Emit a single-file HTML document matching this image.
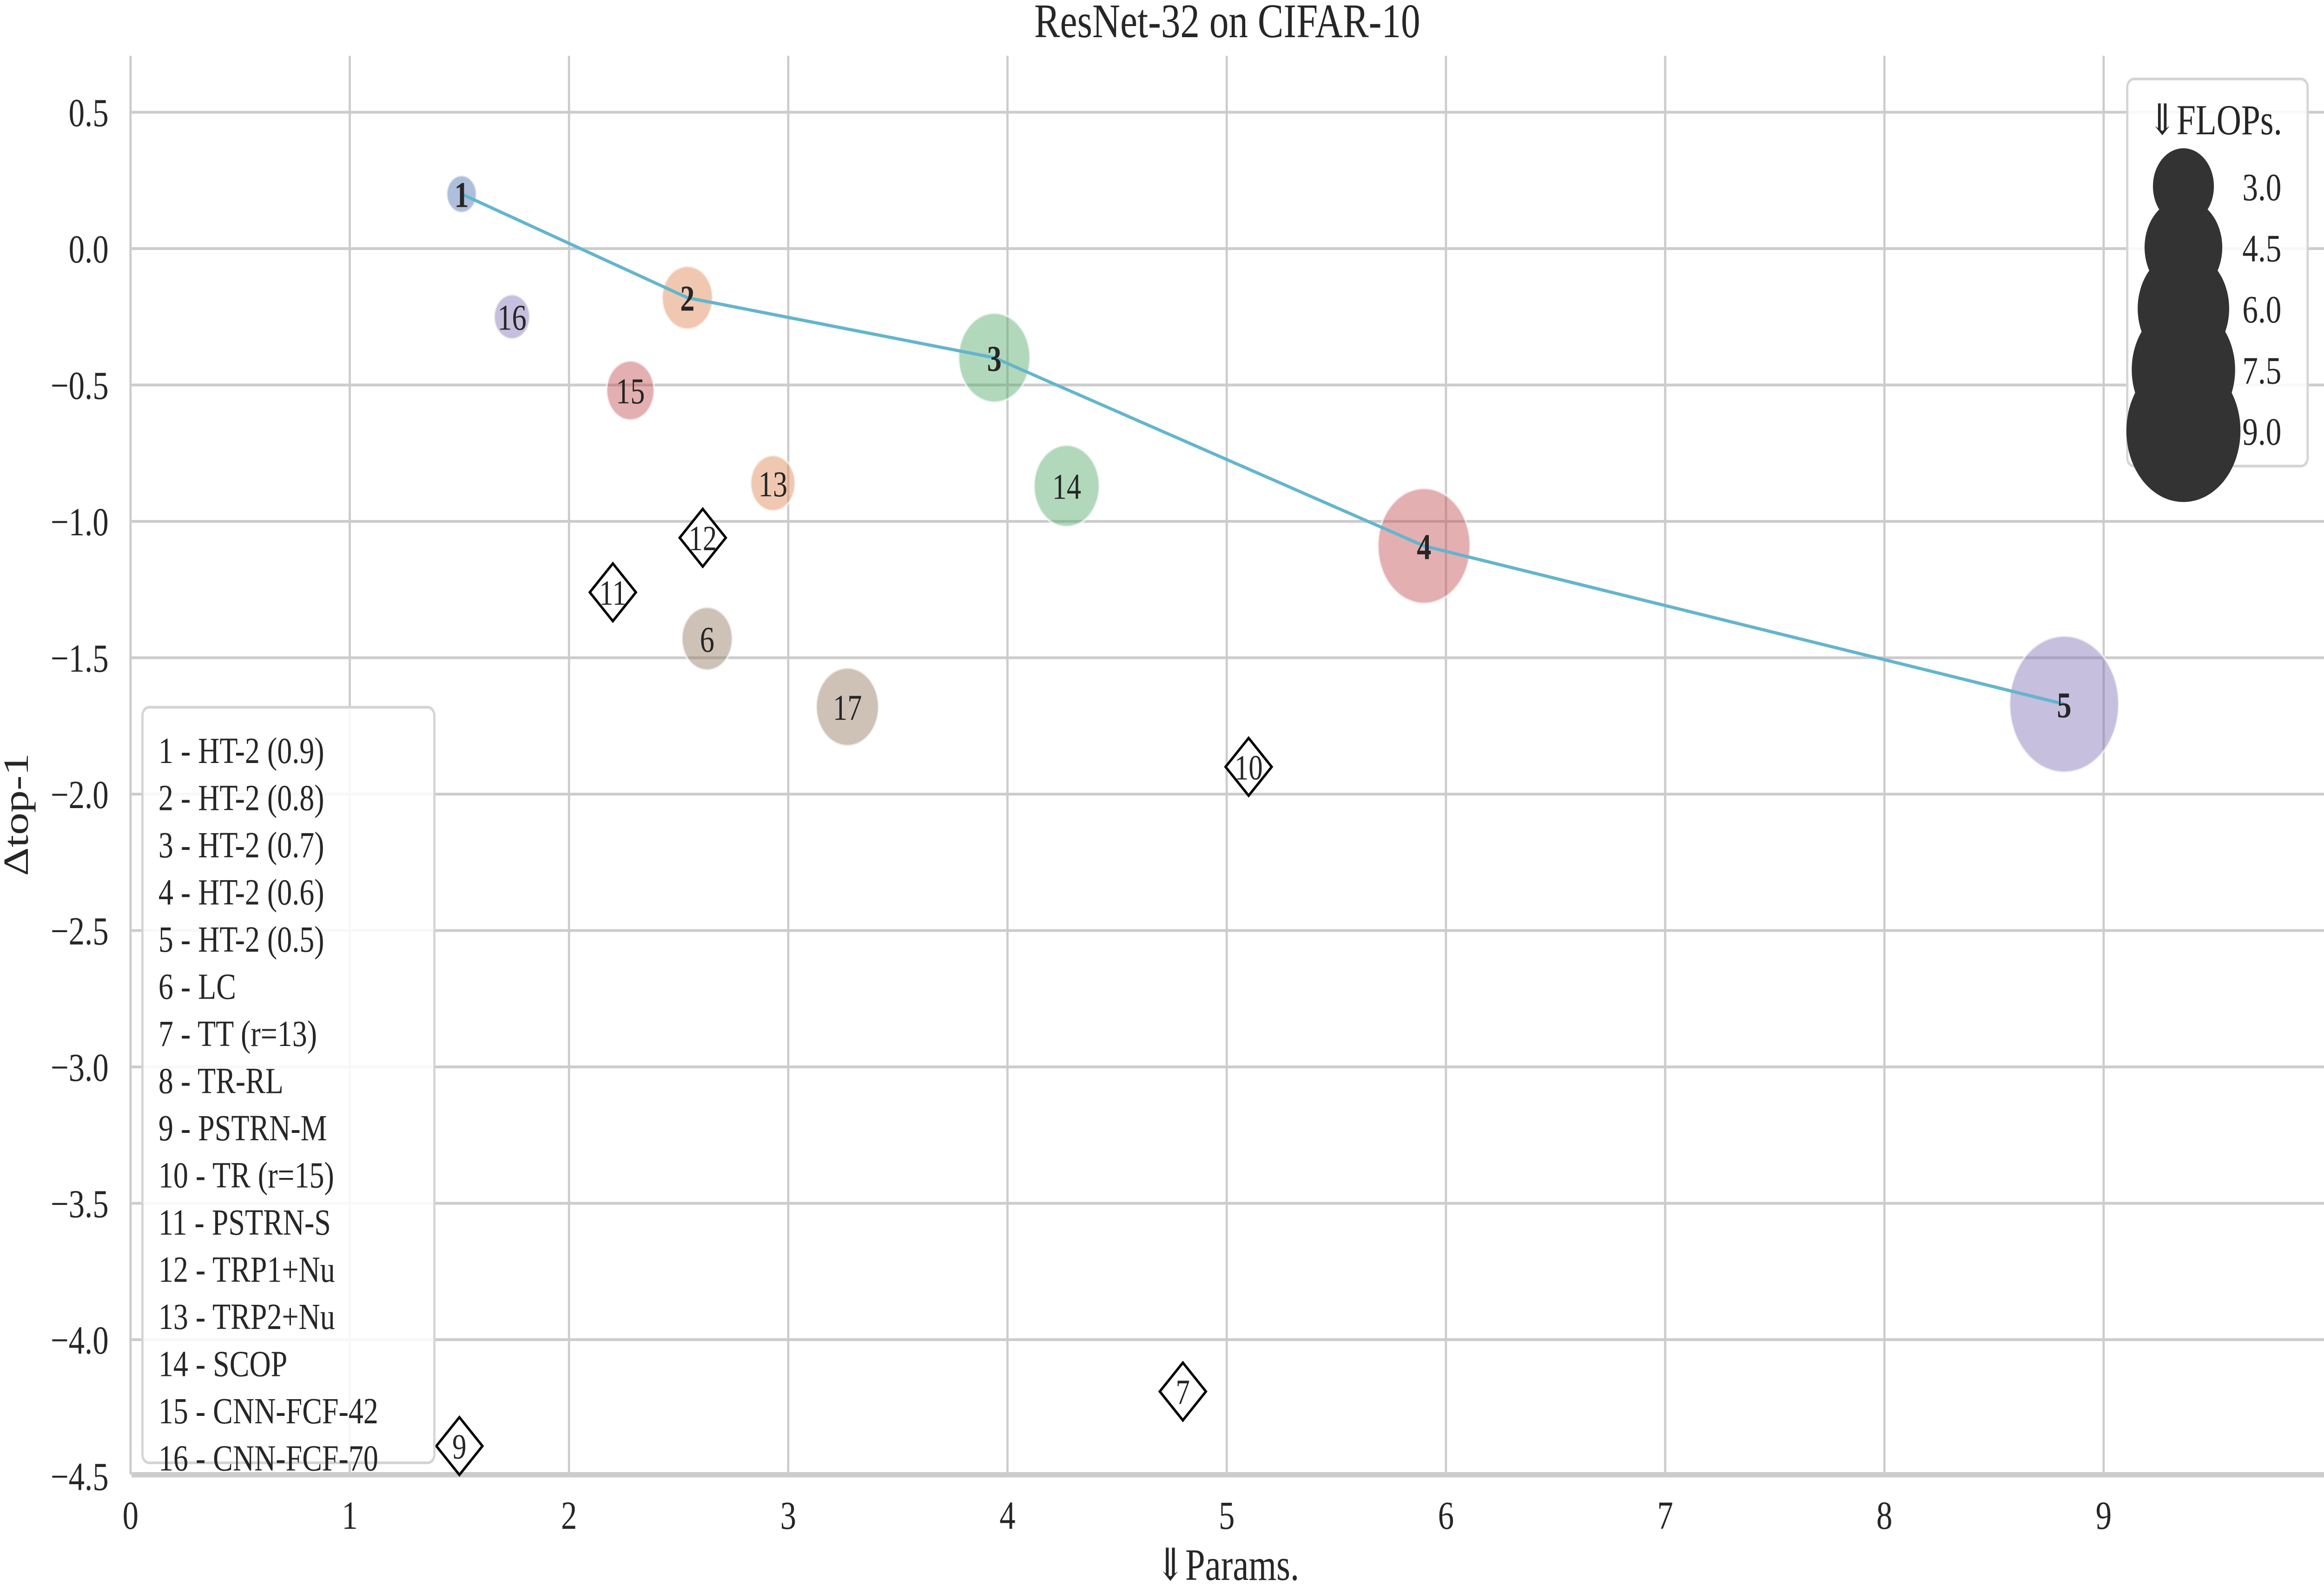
<!DOCTYPE html>
<html><head><meta charset="utf-8"><style>
html,body{margin:0;padding:0;background:#fff;overflow:hidden;width:100vw;height:100vh}
svg{display:block;width:100vw;height:100vh;font-family:"Liberation Serif","DejaVu Serif",serif}
</style></head><body>
<svg id="chart" viewBox="0 0 6249 3426" preserveAspectRatio="none" xmlns="http://www.w3.org/2000/svg">
<text x="3300" y="80" font-size="104" text-anchor="middle" fill="#262626">ResNet-32 on CIFAR-10</text>
<g id="grid"></g>
<g id="marks"></g>
<g id="ticks"></g>
<text x="3300" y="3400" font-size="96" text-anchor="middle" fill="#262626">⇓Params.</text>
<text transform="translate(75,1753) rotate(-90)" font-size="96" text-anchor="middle" fill="#262626">Δtop-1</text>
<g id="legend"></g>
<g id="sizelegend"></g>
</svg>
<script>
const ids = [1,2,3,4,5,16,15,13,14,6,17];
const params = [1.51,2.54,3.94,5.90,8.82,1.74,2.28,2.93,4.27,2.63,3.27];
const dtop = [0.20,-0.18,-0.40,-1.09,-1.67,-0.25,-0.52,-0.86,-0.87,-1.43,-1.68];
const flops = [1.17,2.25,3.9,6.1,8.3,1.42,2.06,1.88,3.36,2.25,3.12];
const colors = ["#4c72b0","#dd8452","#55a868","#c44e52","#8172b3","#8172b3","#c44e52","#dd8452","#55a868","#937860","#937860"];
const diamondIds = [12,11,10,7,9];
const diamondParams = [2.61,2.20,5.10,4.80,1.50];
const diamondTop = [-1.06,-1.26,-1.90,-4.19,-4.39];
const xTicks = [0,1,2,3,4,5,6,7,8,9];
const yTicks = [0.5,0,-0.5,-1,-1.5,-2,-2.5,-3,-3.5,-4,-4.5];
const legendLabels = ["1 - HT-2 (0.9)","2 - HT-2 (0.8)","3 - HT-2 (0.7)","4 - HT-2 (0.6)","5 - HT-2 (0.5)","6 - LC","7 - TT (r=13)","8 - TR-RL","9 - PSTRN-M","10 - TR (r=15)","11 - PSTRN-S","12 - TRP1+Nu","13 - TRP2+Nu","14 - SCOP","15 - CNN-FCF-42","16 - CNN-FCF-70"];
const sizeLevels = [3.0,4.5,6.0,7.5,9.0];

const NS="http://www.w3.org/2000/svg";
const X=v=>351+589.5*v, Y=v=>535-587*v;
const R=f=>Math.sqrt(Math.max(2800*f-1676,300));
function mk(tag,attrs,parent){const e=document.createElementNS(NS,tag);for(const k in attrs)e.setAttribute(k,attrs[k]);parent.appendChild(e);return e;}
const gridG=document.getElementById('grid'),marksG=document.getElementById('marks'),ticksG=document.getElementById('ticks');
const pLeft=354,pRight=6249,pTop=120,pBottom=3173;
xTicks.forEach(t=>{
  const l=mk('line',{x1:X(t),x2:X(t),y1:pTop,y2:pBottom,stroke:'#cccccc','stroke-width':6},gridG);
  
  
  const tx=mk('text',{x:X(t),y:3290,'font-size':86,'text-anchor':'middle',fill:'#262626'},ticksG);
  tx.textContent=t;
  
  
});
yTicks.forEach(t=>{
  const l=mk('line',{x1:pLeft,x2:pRight,y1:Y(t),y2:Y(t),stroke:'#cccccc','stroke-width':6},gridG);
  
  
  const tx=mk('text',{x:292,y:Y(t)+30,'font-size':86,'text-anchor':'end',fill:'#262626'},ticksG);
  tx.textContent=(t<0?'−':'')+Math.abs(t).toFixed(1);
  
  
});
const sp=mk('line',{x1:pLeft,x2:pRight,y1:pBottom,y2:pBottom,stroke:'#cccccc','stroke-width':10},gridG);


ids.forEach((id,i)=>{
  const c=mk('circle',{cx:X(params[i]),cy:Y(dtop[i]),r:R(flops[i]),fill:colors[i],'fill-opacity':0.45,stroke:'#fff','stroke-opacity':0.6,'stroke-width':5},marksG);
  
  
});
const pts=[0,1,2,3,4].map(i=>X(params[i])+','+Y(dtop[i])).join(' ');
const pl=mk('polyline',{points:pts,fill:'none',stroke:'#64b5cd','stroke-width':7},marksG);


ids.forEach((id,i)=>{
  const t=mk('text',{x:X(params[i]),y:Y(dtop[i])+28,'font-size':78,'text-anchor':'middle',fill:'#262626','font-weight':id<=5?'bold':'normal'},marksG);
  t.textContent=id;
  
  
});
diamondIds.forEach((id,i)=>{
  const cx=X(diamondParams[i]),cy=Y(diamondTop[i]),h=62;
  const d=mk('polygon',{points:`${cx},${cy-h} ${cx+h},${cy} ${cx},${cy+h} ${cx-h},${cy}`,fill:'#fff',stroke:'#000','stroke-width':6},marksG);
  
  
  const t=mk('text',{x:cx,y:cy+27,'font-size':76,'text-anchor':'middle',fill:'#262626'},marksG);
  t.textContent=id;
  
  
});
const lg=document.getElementById('legend');
const lb=mk('rect',{x:383,y:1522,width:785,height:1626,rx:18,fill:'#fff','fill-opacity':0.85,stroke:'#d5d5d5','stroke-width':6},lg);


legendLabels.forEach((s,i)=>{
  const t=mk('text',{x:426,y:1642+i*101.5,'font-size':80,fill:'#262626'},lg);
  t.textContent=s;
  
  
});
const sg=document.getElementById('sizelegend');
const sb=mk('rect',{x:5720,y:170,width:485,height:833,rx:18,fill:'#fff','fill-opacity':0.85,stroke:'#d5d5d5','stroke-width':6},sg);


const st=mk('text',{x:5956,y:289,'font-size':92,'text-anchor':'middle',fill:'#262626'},sg);
st.textContent='⇓FLOPs.';


sizeLevels.forEach((f,i)=>{
  const cy=401+i*131.5;
  const c=mk('circle',{cx:5871,cy:cy,r:R(f),fill:'#333333'},sg);
  
  
  const t=mk('text',{x:6082,y:cy+30,'font-size':84,'text-anchor':'middle',fill:'#262626'},sg);
  t.textContent=f.toFixed(1);
  
  
});
</script>
</body></html>
